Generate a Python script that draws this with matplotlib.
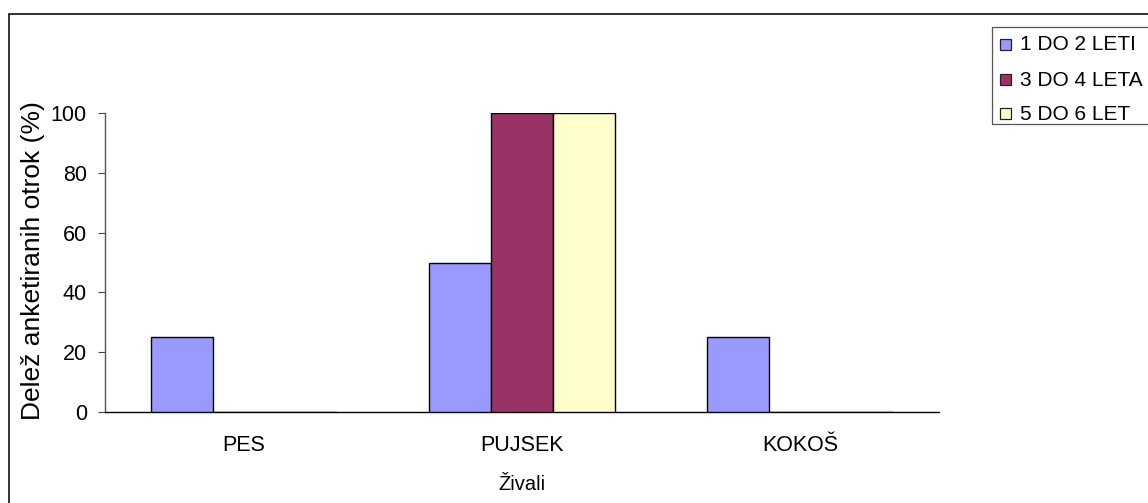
import matplotlib
matplotlib.use("Agg")
import matplotlib.pyplot as plt
from matplotlib.patches import Rectangle
import numpy as np

plt.rcParams['font.family'] = ['Liberation Sans', 'DejaVu Sans']

categories = ["PES", "PUJSEK", "KOKOŠ"]
series_names = ["1 DO 2 LETI", "3 DO 4 LETA", "5 DO 6 LET"]
v_1_2 = [25, 50, 25]
v_3_4 = [0, 100, 0]
v_5_6 = [0, 100, 0]
series_values = [v_1_2, v_3_4, v_5_6]
colors = ["#9999FF", "#993366", "#FFFFCC"]
y_ticks = [0, 20, 40, 60, 80, 100]

W, H = 1148, 503
fig = plt.figure(figsize=(W / 100, H / 100), dpi=100)


def fx(px):
    return px / W


def fy(py):
    return 1 - py / H


ax = fig.add_axes([fx(105), fy(412), fx(939) - fx(105), fy(113) - fy(412)])

x = np.arange(len(categories))
bw = 0.2225
for i, (name, vals, c) in enumerate(zip(series_names, series_values, colors)):
    ax.bar(x + (i - 1) * bw, vals, width=bw, color=c, edgecolor="black",
           linewidth=1.0, label=name, zorder=3)

ax.set_xlim(-0.5, 2.5)
ax.set_ylim(0, 100)
ax.set_yticks(y_ticks)
ax.set_xticks(x)
ax.set_xticklabels(categories)
ax.tick_params(axis="x", length=0, pad=16.5, labelsize=15.5)
ax.tick_params(axis="y", length=5, width=0.8, pad=8, labelsize=15.5, color="#444444")
for s in ("top", "right"):
    ax.spines[s].set_visible(False)
ax.spines["left"].set_color("#555555")
ax.spines["left"].set_linewidth(1.0)
ax.spines["bottom"].set_color("black")
ax.spines["bottom"].set_linewidth(1.0)

# axis titles
fig.text(fx(33), fy(261), "Delež anketiranih otrok (%)", fontsize=19,
         rotation=90, ha="center", va="center")
fig.text(fx(522), fy(484), "Živali", fontsize=14.5, ha="center", va="center")

# outer chart frame
fig.patches.append(Rectangle((fx(8.5), fy(1200)), fx(1500), fy(13.5) - fy(1200),
                             transform=fig.transFigure, fill=False,
                             edgecolor="#222222", linewidth=1.3))

# legend box
fig.patches.append(Rectangle((fx(992), fy(124)), fx(400), fy(27) - fy(124),
                             transform=fig.transFigure, fill=False,
                             edgecolor="#555555", linewidth=0.9))
rows_y = [45, 80, 114]
for name, c, ry in zip(series_names, colors, rows_y):
    fig.patches.append(Rectangle((fx(1000), fy(ry + 5)), fx(11), fy(ry - 6) - fy(ry + 5),
                                 transform=fig.transFigure, facecolor=c,
                                 edgecolor="#222222", linewidth=0.9))
    fig.text(fx(1020), fy(ry), name, fontsize=15, ha="left", va="center")

fig.savefig("out.png", dpi=100)
